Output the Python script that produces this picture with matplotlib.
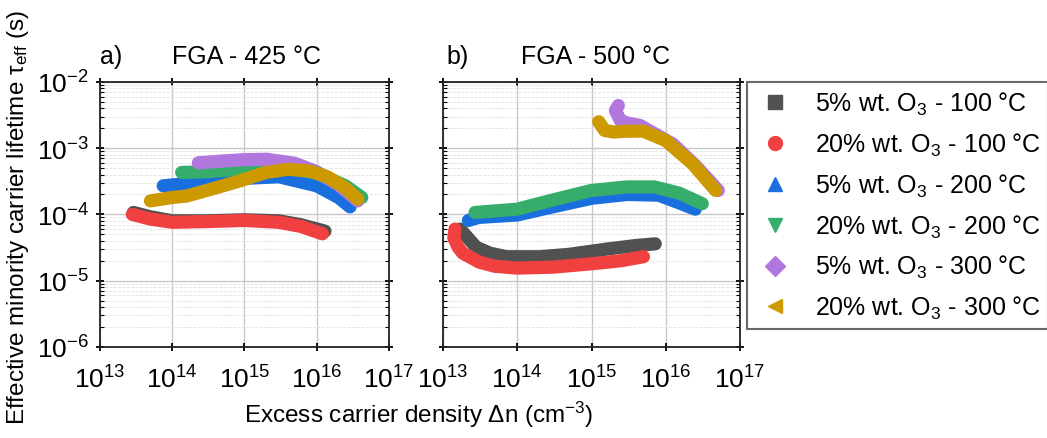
import matplotlib
matplotlib.use("Agg")
import matplotlib.pyplot as plt
from matplotlib.lines import Line2D
import numpy as np

plt.rcParams['font.family'] = ['Liberation Sans', 'DejaVu Sans']
plt.rcParams['mathtext.fontset'] = 'custom'
plt.rcParams['mathtext.rm'] = 'Liberation Sans'
plt.rcParams['mathtext.it'] = 'Liberation Sans:italic'
plt.rcParams['axes.unicode_minus'] = False

#-------------data---------
labels = ["5% wt. O$_{\\mathregular{3}}$ - 100 °C",
          "20% wt. O$_{\\mathregular{3}}$ - 100 °C",
          "5% wt. O$_{\\mathregular{3}}$ - 200 °C",
          "20% wt. O$_{\\mathregular{3}}$ - 200 °C",
          "5% wt. O$_{\\mathregular{3}}$ - 300 °C",
          "20% wt. O$_{\\mathregular{3}}$ - 300 °C"]
colors = ["#515151", "#F14040", "#1A6FDF", "#37AD6B", "#B177DE", "#CC9900"]
markers = ["s", "o", "^", "v", "D", "<"]

# panel a) FGA 425 C
black_a_x = [2.9e13, 5e13, 1e14, 3e14, 1e15, 3e15, 6e15, 1.3e16]
black_a_y = [1.07e-4, 9.2e-5, 8.0e-5, 8.0e-5, 8.3e-5, 8.0e-5, 7.0e-5, 5.6e-5]
red_a_x = [2.8e13, 5e13, 1e14, 3e14, 1e15, 3e15, 6e15, 1.2e16]
red_a_y = [1.0e-4, 8.5e-5, 7.6e-5, 7.8e-5, 8.1e-5, 7.6e-5, 6.6e-5, 5.1e-5]
blue_a_x = [7.5e13, 1.5e14, 5e14, 1e15, 3e15, 1e16, 2e16, 2.9e16]
blue_a_y = [2.7e-4, 2.9e-4, 3.2e-4, 3.5e-4, 3.7e-4, 2.7e-4, 1.8e-4, 1.3e-4]
green_a_x = [1.35e14, 3e14, 1e15, 3e15, 1e16, 2.5e16, 4.2e16]
green_a_y = [4.3e-4, 4.4e-4, 4.9e-4, 5.3e-4, 4.2e-4, 2.7e-4, 1.8e-4]
purple_a_x = [2.3e14, 5e14, 1e15, 2e15, 5e15, 1e16, 2e16, 3.7e16]
purple_a_y = [6.0e-4, 6.4e-4, 6.7e-4, 6.8e-4, 5.9e-4, 4.4e-4, 2.8e-4, 1.6e-4]
gold_a_x = [5e13, 1e14, 1.6e14, 3e14, 7.8e14, 2e15, 4e15, 8e15, 1.4e16, 2.5e16, 3.7e16]
gold_a_y = [1.6e-4, 1.8e-4, 1.9e-4, 2.3e-4, 3.1e-4, 4.3e-4, 4.8e-4, 4.5e-4, 3.7e-4, 2.5e-4, 1.7e-4]

# panel b) FGA 500 C
black_b_x = [1.7e13, 2.1e13, 2.8e13, 4.3e13, 7.2e13, 2e14, 5e14, 1.6e15, 4e15, 7.2e15]
black_b_y = [6.0e-5, 4.6e-5, 3.2e-5, 2.6e-5, 2.3e-5, 2.3e-5, 2.5e-5, 3.0e-5, 3.4e-5, 3.6e-5]
red_b_x = [1.45e13, 1.4e13, 1.6e13, 1.85e13, 3.1e13, 5e13, 1e14, 3e14, 1e15, 2.5e15, 5e15]
red_b_y = [6.0e-5, 4.4e-5, 3.2e-5, 2.6e-5, 1.9e-5, 1.65e-5, 1.55e-5, 1.6e-5, 1.8e-5, 2.0e-5, 2.3e-5]
blue_b_x = [2.2e13, 3e13, 1e14, 3e14, 1e15, 3e15, 8e15, 1.5e16, 2.5e16]
blue_b_y = [8.1e-5, 9.0e-5, 9.8e-5, 1.3e-4, 1.75e-4, 2.0e-4, 1.95e-4, 1.5e-4, 1.2e-4]
green_b_x = [2.7e13, 1e14, 3e14, 1e15, 3e15, 7e15, 1.5e16, 3.1e16]
green_b_y = [1.07e-4, 1.2e-4, 1.65e-4, 2.3e-4, 2.6e-4, 2.6e-4, 2.1e-4, 1.45e-4]
purple_b_x = [2.3e15, 2.1e15, 2.45e15, 3e15, 4.5e15, 1.25e16, 2.5e16, 5.1e16]
purple_b_y = [4.4e-3, 3.7e-3, 2.6e-3, 2.4e-3, 2.2e-3, 1.15e-3, 5.5e-4, 2.3e-4]
gold_b_x = [1.25e15, 1.5e15, 2e15, 3e15, 5e15, 1e16, 2.3e16, 4.7e16]
gold_b_y = [2.5e-3, 1.85e-3, 1.75e-3, 1.8e-3, 1.8e-3, 1.3e-3, 5.8e-4, 2.3e-4]

panel_a = [(black_a_x, black_a_y), (red_a_x, red_a_y), (blue_a_x, blue_a_y),
           (green_a_x, green_a_y), (purple_a_x, purple_a_y), (gold_a_x, gold_a_y)]
panel_b = [(black_b_x, black_b_y), (red_b_x, red_b_y), (blue_b_x, blue_b_y),
           (green_b_x, green_b_y), (purple_b_x, purple_b_y), (gold_b_x, gold_b_y)]

#-------------figure---------
fig = plt.figure(figsize=(10.47, 4.39), dpi=100)
ax_a = fig.add_axes([0.0955, 0.2073, 0.276, 0.604])
ax_b = fig.add_axes([0.4231, 0.2073, 0.2837, 0.604])

for ax, data in [(ax_a, panel_a), (ax_b, panel_b)]:
    ax.set_xscale('log')
    ax.set_yscale('log')
    ax.set_xlim(1e13, 1e17)
    ax.set_ylim(1e-6, 1e-2)
    ax.grid(True, which='major', color='#c8c8c8', linewidth=1.0, linestyle='-')
    ax.grid(True, which='minor', color='#e2e2e2', linewidth=0.6, linestyle='--')
    ax.set_axisbelow(True)
    for (x, y), c in zip(data, colors):
        ax.plot(x, y, color=c, linewidth=9.5, solid_joinstyle='round',
                solid_capstyle='round')
    ax.tick_params(which='minor', direction='in', top=True, right=True,
                   length=3, width=0.8)
    ax.tick_params(which='major', direction='inout', top=True, right=True,
                   length=6, width=1.3, labelsize=19)
    ax.tick_params(axis='x', which='major', pad=10)
    ax.tick_params(axis='y', which='major', pad=5)
    for s in ax.spines.values():
        s.set_linewidth(1.3)
        s.set_color('#222222')
    ax.set_xticks([1e13, 1e14, 1e15, 1e16, 1e17])
    ax.set_yticks([1e-6, 1e-5, 1e-4, 1e-3, 1e-2])

ax_b.set_yticklabels([])

fig.text(0.0955, 0.87, "a)", fontsize=18, ha='left', va='center')
fig.text(0.235, 0.87, "FGA - 425 °C", fontsize=18, ha='center', va='center')
fig.text(0.426, 0.87, "b)", fontsize=18, ha='left', va='center')
fig.text(0.569, 0.87, "FGA - 500 °C", fontsize=18, ha='center', va='center')

fig.text(0.017, 0.505, "Effective minority carrier lifetime τ$_{\\mathregular{eff}}$ (s)",
         rotation=90, fontsize=17.5, ha='center', va='center')
fig.text(0.40, 0.055, "Excess carrier density Δn (cm$^{\\mathregular{-3}}$)",
         fontsize=17.5, ha='center', va='center')

handles = [Line2D([], [], linestyle='none', marker=m, color=c, markersize=10)
           for m, c in zip(markers, colors)]
leg = fig.legend(handles, labels, loc='upper left', bbox_to_anchor=(0.7135, 0.811),
                 fontsize=18, frameon=True, fancybox=False, labelspacing=0.55,
                 handletextpad=0.8, borderpad=0.3, handlelength=1.6,
                 borderaxespad=0)
leg.get_frame().set_edgecolor('#444444')
leg.get_frame().set_linewidth(1.5)

fig.savefig("out.png", dpi=100)
